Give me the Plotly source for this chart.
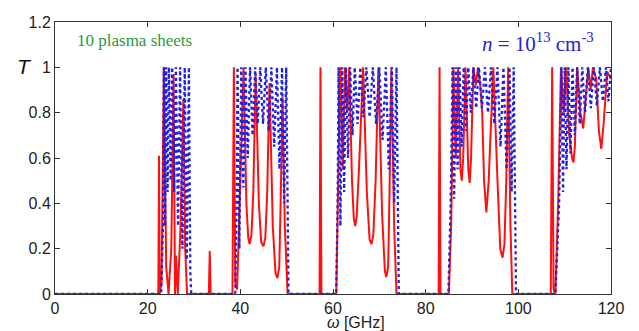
import plotly.graph_objects as go

# Red (solid) transmission curve: frequency [GHz] and T
red_w = [0, 22.3, 22.45, 22.6, 23.0, 23.5, 24.0, 24.5, 25.1, 25.6, 25.9, 26.1, 26.5, 27.1, 27.7, 28.1, 28.5,
         33.2, 33.4, 33.6,
         38.3, 38.6, 38.9, 39.3, 40.0, 40.7, 41.3, 41.7, 42.0, 42.4, 42.8, 43.3, 44.0, 44.5, 45.0, 45.4, 45.8,
         46.3, 47.0, 47.6, 48.0, 48.4, 48.7, 49.1, 49.6, 50.2,
         57.1, 57.3, 57.5,
         60.7, 61.2, 61.6, 62.1, 62.6, 63.1, 63.5, 64.1, 64.5, 64.8, 65.1, 65.6, 66.5, 67.3, 67.9, 68.3, 68.7,
         69.2, 69.8, 70.6, 71.2, 71.5, 71.9, 72.2, 72.6, 73.2, 73.7,
         82.8, 83.0, 83.2,
         85.0, 85.5, 86.0, 86.5, 87.0, 87.5, 87.8, 88.1, 88.6, 89.2, 89.5, 89.8, 90.3, 90.8, 91.3, 91.8, 92.2,
         92.6, 93.1, 93.6, 94.6, 95.5, 96.1, 96.6, 97.0, 97.4, 97.8, 98.3, 98.7,
         107.0, 107.3, 107.6, 108.0, 108.6, 109.2, 109.8, 110.3, 111.0, 111.6, 111.9, 112.2, 112.7, 113.4,
         114.0, 114.5, 115.1, 115.6, 116.1, 116.8, 117.4, 117.9, 118.4, 119.2, 120.0]
red_T = [0, 0, 0.61, 0, 0.05, 1.0, 0.12, 0.0, 0.2, 0.97, 0.0, 0.17, 0.0, 0.3, 0.86, 0.2, 0,
         0, 0.19, 0,
         0, 1.0, 0.05, 0.02, 0.5, 1.0, 0.4, 0.25, 0.22, 0.26, 0.45, 0.97, 0.4, 0.23, 0.21, 0.25, 0.45,
         0.93, 0.3, 0.09, 0.07, 0.12, 0.4, 0.87, 0.3, 0,
         0, 1.0, 0,
         0, 0.6, 1.0, 0.55, 1.0, 0.8, 1.0, 0.5, 0.33, 0.30, 0.34, 0.55, 1.0, 0.45, 0.24, 0.22, 0.26,
         0.5, 1.0, 0.35, 0.1, 0.075, 0.12, 0.45, 1.0, 0.3, 0,
         0, 1.0, 0,
         0, 0.3, 1.0, 0.6, 1.0, 0.55, 0.5, 0.6, 1.0, 0.55, 0.49, 0.6, 1.0, 0.92, 1.0, 0.92, 0.8,
         0.5, 0.36, 0.5, 1.0, 0.5, 0.2, 0.16, 0.22, 0.5, 1.0, 0.3, 0,
         0, 1.0, 0.02, 0, 0.4, 1.0, 0.8, 1.0, 0.7, 0.6, 0.58, 0.65, 1.0, 0.8,
         0.73, 0.85, 1.0, 0.9, 1.0, 0.95, 0.72, 0.64, 0.75, 0.98, 0.95]

# Blue (dotted) transmission curve
blue_w = [0, 22.9, 23.3, 23.5, 23.75, 24.0, 24.3, 24.6, 24.95, 25.3, 25.7, 26.1, 26.55, 27.0, 27.5, 28.0,
          28.45, 28.9, 29.2, 29.4,
          38.9, 39.2, 39.4, 39.8, 40.2, 40.65, 41.1, 41.6, 42.1, 42.65, 43.2, 43.75, 44.3, 44.9, 45.5, 46.1,
          46.7, 47.3, 47.9, 48.45, 49.0, 49.45, 49.9, 50.2, 50.4,
          60.7, 61.0, 61.2, 61.6, 62.0, 62.4, 62.8, 63.25, 63.7, 64.2, 64.7, 65.3, 65.9, 66.55, 67.2, 67.9,
          68.6, 69.3, 70.0, 70.7, 71.4, 72.05, 72.7, 73.2, 73.7, 74.0, 74.2,
          84.9, 85.4, 85.8, 86.15, 86.5, 86.9, 87.3, 87.75, 88.2, 88.7, 89.2, 89.75, 90.3, 90.9, 91.5, 92.15,
          92.8, 93.45, 94.1, 94.8, 95.5, 96.15, 96.8, 97.45, 98.1, 98.55, 99.0, 99.3, 99.5,
          108.0, 108.8, 109.3, 109.65, 110.0, 110.4, 110.8, 111.25, 111.7, 112.2, 112.7, 113.25, 113.8,
          114.4, 115.0, 115.65, 116.3, 116.95, 117.6, 118.25, 118.9, 119.45, 120.0]
blue_T = [0, 0, 0.3, 1.0, 0.3, 1.0, 0.45, 1.0, 0.5, 1.0, 0.45, 1.0, 0.3, 1.0, 0.2, 1.0,
          0.15, 1.0, 0.1, 0,
          0, 0.4, 1.0, 0.2, 1.0, 0.47, 1.0, 0.6, 1.0, 0.7, 1.0, 0.75, 1.0, 0.75, 1.0, 0.72,
          1.0, 0.65, 1.0, 0.55, 1.0, 0.4, 1.0, 0.2, 0,
          0, 0.4, 1.0, 0.3, 1.0, 0.45, 1.0, 0.6, 1.0, 0.7, 1.0, 0.75, 1.0, 0.78, 1.0, 0.78,
          1.0, 0.75, 1.0, 0.68, 1.0, 0.55, 1.0, 0.4, 1.0, 0.2, 0,
          0, 0.4, 1.0, 0.42, 1.0, 0.55, 1.0, 0.65, 1.0, 0.72, 1.0, 0.8, 1.0, 0.82, 1.0, 0.82,
          1.0, 0.8, 1.0, 0.75, 1.0, 0.65, 1.0, 0.55, 1.0, 0.45, 1.0, 0.2, 0,
          0, 0.4, 1.0, 0.45, 1.0, 0.55, 1.0, 0.62, 1.0, 0.7, 1.0, 0.75, 1.0,
          0.8, 1.0, 0.82, 1.0, 0.83, 1.0, 0.85, 1.0, 0.85, 1.0]

x_ticks = [0, 20, 40, 60, 80, 100, 120]
y_ticks = [0, 0.2, 0.4, 0.6, 0.8, 1.0, 1.2]
y_labels = ["0", "0.2", "0.4", "0.6", "0.8", "1", "1.2"]

fig = go.Figure()
fig.add_trace(go.Scatter(x=red_w, y=red_T, mode="lines",
                         line=dict(color="#ff1010", width=2), showlegend=False))
fig.add_trace(go.Scatter(x=blue_w, y=blue_T, mode="lines",
                         line=dict(color="#2020e0", width=2.3, dash="dot"), showlegend=False))

axis_common = dict(showline=True, linecolor="#333333", linewidth=1, mirror="ticks", automargin=False,
                   ticks="inside", ticklen=5, tickcolor="#333333", showgrid=False, zeroline=False,
                   tickfont=dict(family="Liberation Sans, Arial", size=16, color="#222222"))
fig.update_xaxes(range=[0, 120], tickvals=x_ticks, **axis_common)
fig.update_yaxes(range=[0, 1.2], tickvals=y_ticks, ticktext=y_labels, **axis_common)

fig.add_annotation(x=0.0, y=1.0, xref="paper", yref="y", xshift=-31, yshift=1, showarrow=False,
                   text="<i>T</i>", font=dict(family="Liberation Sans, Arial", size=21, color="#111111"),
                   xanchor="center", yanchor="middle")
fig.add_annotation(x=58.2, y=0, xref="x", yref="paper", yshift=-28, showarrow=False,
                   text="<i>ω</i> [GHz]", font=dict(family="Liberation Sans, Arial", size=16, color="#222222"),
                   xanchor="left", yanchor="middle")
fig.add_annotation(x=4.4, y=1.12, xref="x", yref="y", showarrow=False,
                   text="10 plasma sheets",
                   font=dict(family="Liberation Serif, Times New Roman", size=17, color="#2a9a3a"),
                   xanchor="left", yanchor="middle")
fig.add_annotation(x=116.8, y=1.11, xref="x", yref="y", showarrow=False,
                   text="<i>n</i> = 10<sup>13</sup> cm<sup>-3</sup>",
                   font=dict(family="Liberation Serif, Times New Roman", size=21, color="#2323d8"),
                   xanchor="right", yanchor="middle")

fig.update_layout(width=639, height=331, margin=dict(l=55, r=28, t=22, b=37),
                  plot_bgcolor="white", paper_bgcolor="white")
fig.write_html("out.html", config={"displayModeBar": False},
               post_script="document.body.style.margin='0';")
